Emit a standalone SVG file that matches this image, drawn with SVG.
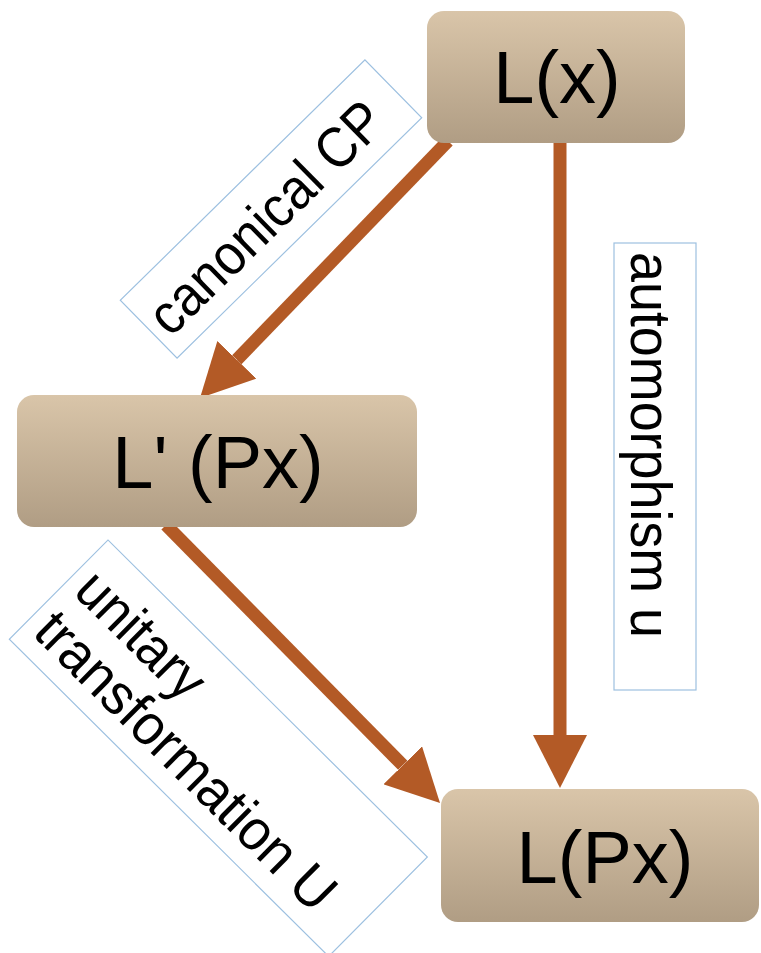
<svg xmlns="http://www.w3.org/2000/svg" width="761" height="953" viewBox="0 0 761 953">
<style>
.node rect{fill:url(#ng);}
.ntxt{font-family:"Liberation Sans",Arial,sans-serif;font-size:74px;fill:#000;text-anchor:middle;}
.lbl rect{fill:#fff;stroke:#9dc0e0;stroke-width:1.2;}
.ltxt{font-family:"Liberation Sans",Arial,sans-serif;font-size:57px;fill:#000;}
.conn line{stroke:#b35a26;stroke-width:13;fill:none;marker-end:url(#ah);}
</style>
<defs>
<linearGradient id="ng" x1="0" y1="0" x2="0" y2="1">
<stop offset="0" stop-color="#d9c5a9"/>
<stop offset="1" stop-color="#b09d84"/>
</linearGradient>
<marker id="ah" viewBox="0 0 53 54" markerWidth="53" markerHeight="54" markerUnits="userSpaceOnUse" refX="0" refY="27" orient="auto">
<path d="M0,0 L53,27 L0,54 z" fill="#b35a26"/>
</marker>
</defs>
<rect width="761" height="953" fill="#fff"/>
<g id="connectors" class="conn">
<line x1="560" y1="140" x2="560" y2="735"/>
<line x1="448" y1="141" x2="236.8" y2="359.8"/>
<line x1="166" y1="525" x2="402.8" y2="765.3"/>
</g>
<g id="node-Lx" class="node">
<rect x="427" y="11" width="258" height="132" rx="17"/>
<text class="ntxt" x="557" y="103">L(x)</text>
</g>
<g id="node-LpPx" class="node">
<rect x="17" y="395" width="400" height="132" rx="17"/>
<text class="ntxt" x="218" y="488">L' (Px)</text>
</g>
<g id="node-LPx" class="node">
<rect x="441" y="789" width="318" height="133" rx="17"/>
<text class="ntxt" x="605" y="883">L(Px)</text>
</g>
<g id="label-canonical" class="lbl" transform="translate(271,209) rotate(-44.5)">
<rect x="-171.5" y="-40.5" width="343" height="81"/>
<text class="ltxt" x="-162" y="22" textLength="305" lengthAdjust="spacingAndGlyphs">canonical CP</text>
</g>
<g id="label-automorphism" class="lbl">
<rect x="614" y="243" width="82" height="447"/>
<text class="ltxt" transform="translate(631,252) rotate(90)" x="0" y="0" textLength="386" lengthAdjust="spacingAndGlyphs">automorphism u</text>
</g>
<g id="label-unitary" class="lbl" transform="translate(108,540) rotate(44.8)">
<rect x="0" y="0" width="450" height="140"/>
<text class="ltxt" x="12" y="63" textLength="157" lengthAdjust="spacingAndGlyphs">unitary</text>
<text class="ltxt" x="12" y="121" textLength="398" lengthAdjust="spacingAndGlyphs">transformation U</text>
</g>
</svg>
